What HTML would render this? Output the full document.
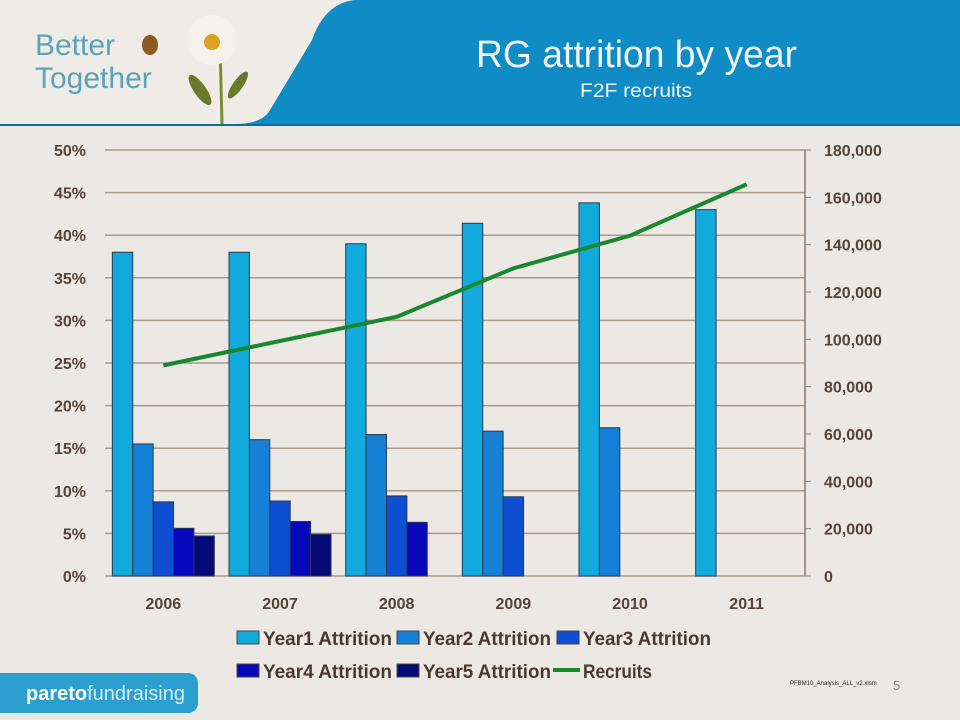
<!DOCTYPE html>
<html><head><meta charset="utf-8"><style>
body{margin:0;width:960px;height:720px;overflow:hidden;background:#ece8e4;font-family:"Liberation Sans",sans-serif}
</style></head><body>
<svg width="960" height="720" style="position:absolute;left:0;top:0">
<rect x="0" y="0" width="960" height="124" fill="#efece8"/>
<path d="M355,0 Q325,3 312,40 L270,110 Q262,124 235,124 L960,124 L960,0 Z" fill="#0f8bc5"/>
<line x1="0" y1="125" x2="960" y2="125" stroke="#0b6f9e" stroke-width="2"/>
<text x="35" y="55" font-size="30" fill="#5ba3b8">Better</text>
<text x="35" y="88" font-size="30" fill="#5ba3b8">Together</text>
<g>
<line x1="220" y1="45" x2="222" y2="124" stroke="#7a8a30" stroke-width="3"/>
<ellipse cx="200" cy="90" rx="6" ry="18" fill="#6a7a2a" transform="rotate(-35 200 90)"/>
<ellipse cx="238" cy="85" rx="5" ry="16" fill="#6a7a2a" transform="rotate(35 238 85)"/>
<circle cx="212" cy="40" r="25" fill="#f4f1ea"/>
<circle cx="212" cy="42" r="8" fill="#e0a020"/>
<ellipse cx="150" cy="45" rx="8" ry="10" fill="#8a5a20"/>
</g>
<text x="476" y="67" font-size="38" fill="#f2f6f8" textLength="321" lengthAdjust="spacingAndGlyphs">RG attrition by year</text>
<text x="580" y="97" font-size="19" fill="#f2f6f8" textLength="112" lengthAdjust="spacingAndGlyphs">F2F recruits</text>
<g id="chart"></g>
<g font-weight="bold" font-size="19" fill="#4a3a30">
<g><rect x="237" y="631" width="22" height="13" fill="#12a9dc" stroke="#444"/><text x="263" y="645" textLength="129" lengthAdjust="spacingAndGlyphs">Year1 Attrition</text></g>
<g><rect x="397" y="631" width="22" height="13" fill="#1680d6" stroke="#444"/><text x="423" y="645" textLength="128" lengthAdjust="spacingAndGlyphs">Year2 Attrition</text></g>
<g><rect x="557" y="631" width="22" height="13" fill="#0c4fd2" stroke="#444"/><text x="583" y="645" textLength="128" lengthAdjust="spacingAndGlyphs">Year3 Attrition</text></g>
<g><rect x="237" y="664" width="22" height="13" fill="#0707bd" stroke="#444"/><text x="263" y="678" textLength="129" lengthAdjust="spacingAndGlyphs">Year4 Attrition</text></g>
<g><rect x="397" y="664" width="22" height="13" fill="#040a78" stroke="#444"/><text x="423" y="678" textLength="128" lengthAdjust="spacingAndGlyphs">Year5 Attrition</text></g>
<g><line x1="553" y1="670" x2="580" y2="670" stroke="#17882e" stroke-width="4"/><text x="583" y="678" textLength="69" lengthAdjust="spacingAndGlyphs">Recruits</text></g>
</g>
<rect x="-20" y="673" width="218" height="40" rx="10" fill="#2a9fd0"/>
<text x="26" y="700" font-size="20" fill="#fff"><tspan font-weight="bold">pareto</tspan><tspan font-weight="normal" fill="#d8eef8">fundraising</tspan></text>
<text x="790" y="685" font-size="6" fill="#222">PFBM10_Analysis_ALL_v2.xlsm</text>
<text x="893" y="690" font-size="13" fill="#888">5</text>
</svg>
<script>
const categories=["2006","2007","2008","2009","2010","2011"];
const year1=[38,38,39,41.4,43.8,43];
const year2=[15.5,16,16.6,17,17.4,null];
const year3=[8.7,8.8,9.4,9.3,null,null];
const year4=[5.6,6.4,6.3,null,null,null];
const year5=[4.7,4.9,null,null,null,null];
const recruits=[89000,99300,109500,130000,143800,165500];
const pctTicks=[0,5,10,15,20,25,30,35,40,45,50];
const numTicks=[0,20000,40000,60000,80000,100000,120000,140000,160000,180000];
const NS="http://www.w3.org/2000/svg";
const g=document.getElementById("chart");
const L=105,R=805,T=150,B=576;
const yP=v=>B-(v/50)*(B-T);
const yN=v=>B-(v/180000)*(B-T);
const band=(R-L)/categories.length;
const xC=i=>L+band*(i+0.5);
function mk(tag,attrs){const e=document.createElementNS(NS,tag);for(const k in attrs)e.setAttribute(k,attrs[k]);g.appendChild(e);return e;}
pctTicks.forEach(t=>{
 const l=mk("line",{x1:L,x2:R,y1:yP(t),y2:yP(t),stroke:"#a89a8c","stroke-width":1.5});
 
 
 const tx=mk("text",{x:86,y:yP(t)+6,"text-anchor":"end","font-size":16,"font-weight":"bold",fill:"#54443a"});
 tx.textContent=t+"%";
 
 
});
numTicks.forEach(t=>{
 mk("line",{x1:R,x2:R+6,y1:yN(t),y2:yN(t),stroke:"#8a7a6c"});
 const tx=mk("text",{x:824,y:yN(t)+6,"font-size":16,"font-weight":"bold",fill:"#54443a"});
 tx.textContent=t.toLocaleString("en-US");
 
 
});
mk("line",{x1:R,x2:R,y1:T,y2:B,stroke:"#8a7a6c","stroke-width":1.5});
const series=[year1,year2,year3,year4,year5];
const colors=["#12a9dc","#1680d6","#0c4fd2","#0707bd","#040a78"];
const bw=20.4,gw=bw*5;
categories.forEach((c,i)=>{
 const x0=xC(i)-gw/2;
 series.forEach((s,j)=>{
  if(s[i]==null)return;
  const r=mk("rect",{x:x0+j*bw,y:yP(s[i]),width:bw,height:B-yP(s[i]),fill:colors[j],stroke:"#2a3a50","stroke-width":1});
  
  
 });
 const tx=mk("text",{x:xC(i),y:609,"text-anchor":"middle","font-size":16,"font-weight":"bold",fill:"#54443a"});
 tx.textContent=c;
 
 
});
const pl=mk("polyline",{points:recruits.map((v,i)=>xC(i)+","+yN(v)).join(" "),fill:"none",stroke:"#17882e","stroke-width":4});


</script>
</body></html>
